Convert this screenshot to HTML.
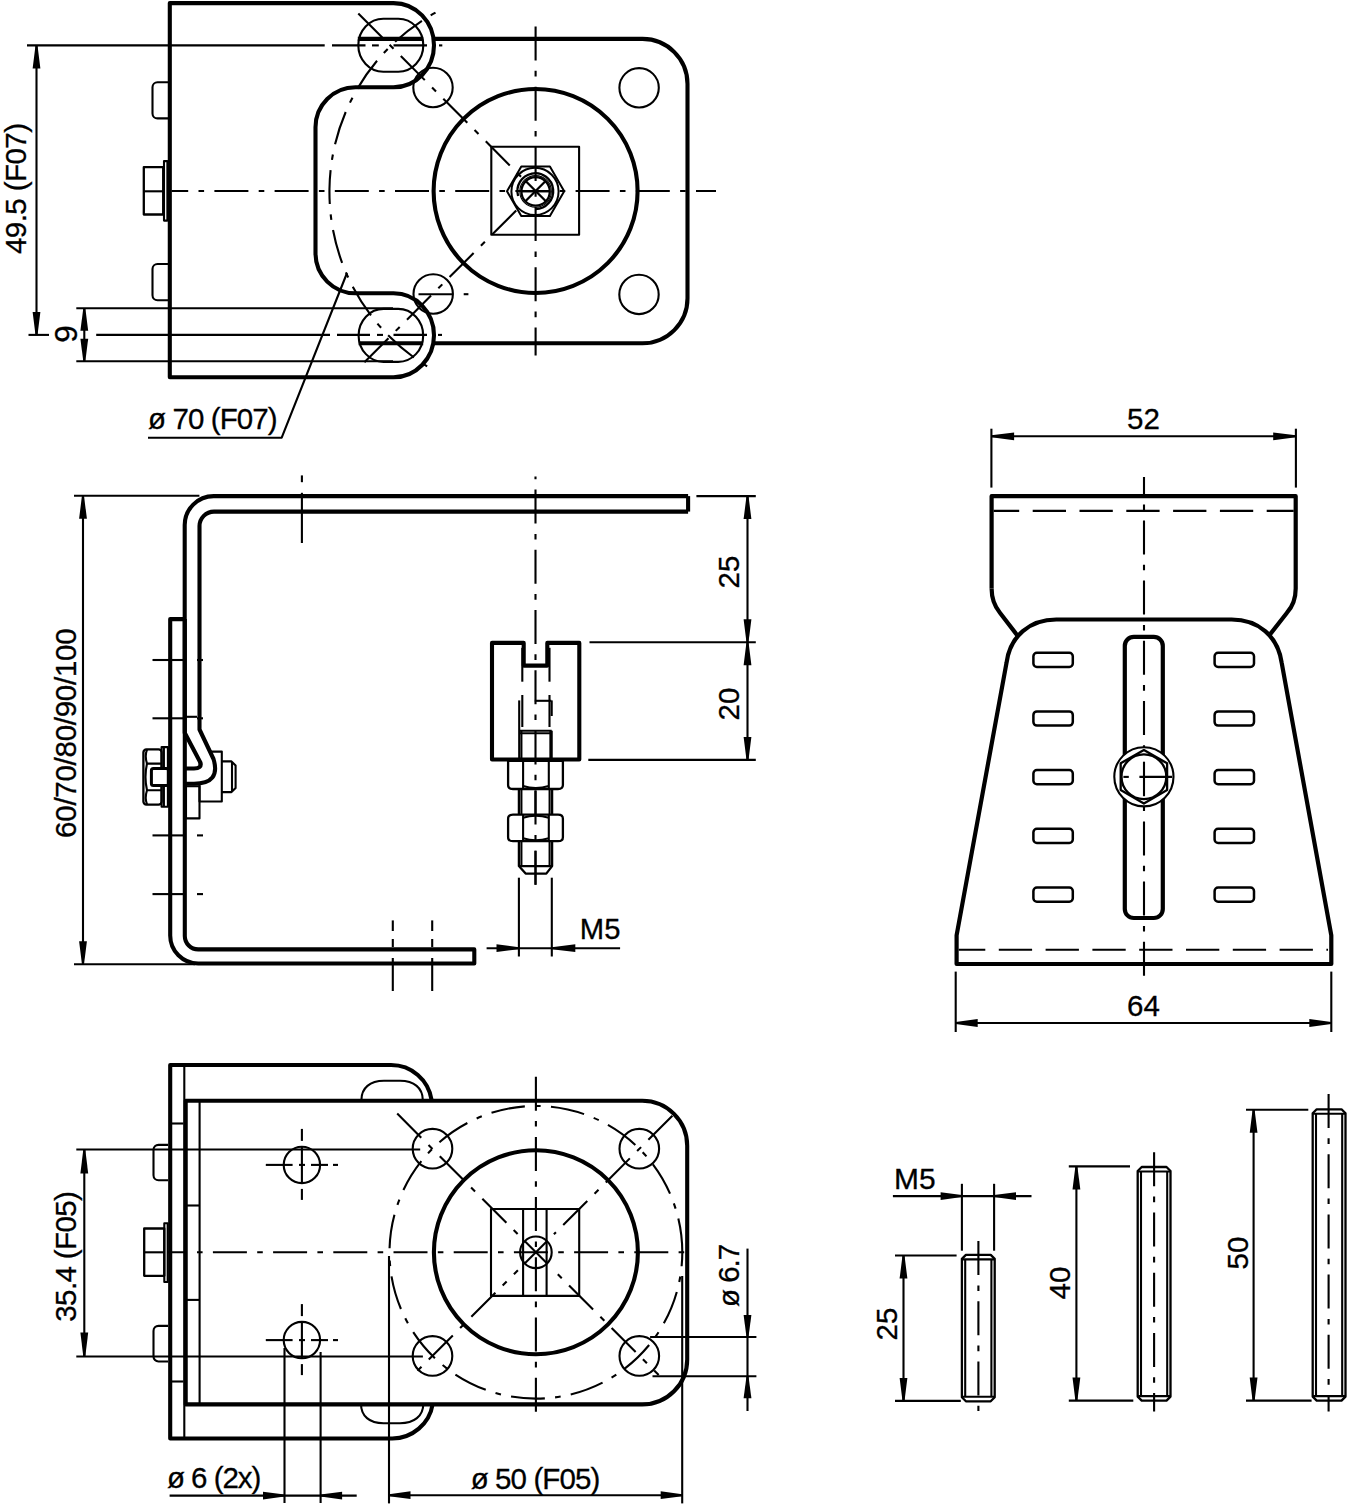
<!DOCTYPE html>
<html><head><meta charset="utf-8"><style>
html,body{margin:0;padding:0;background:#fff;width:1347px;height:1508px;overflow:hidden}
svg{display:block}
.k{fill:none;stroke:#000;stroke-width:4.1;stroke-linejoin:round}
.t{fill:none;stroke:#000;stroke-width:2.1;stroke-linejoin:round}
.m{fill:none;stroke:#000;stroke-width:2.3;stroke-linejoin:round}
.c{fill:none;stroke:#000;stroke-width:2.1;stroke-dasharray:34 10.3 5.6 10.3}
.ck{fill:none;stroke:#000;stroke-width:2.0;stroke-dasharray:34 10.3 5.6 10.3}
.h{fill:none;stroke:#000;stroke-width:2.1;stroke-dasharray:33 14}
.ar{fill:#000;stroke:none}
.wf{fill:#fff}
text{font-family:"Liberation Sans",sans-serif;fill:#000;stroke:#000;stroke-width:0.3}
</style></head><body>
<svg width="1347" height="1508" viewBox="0 0 1347 1508">
<path class="k" d="M169.8,3.1 H393.5 A40.5,42.1 0 0 1 393.5,87.3 H355.5 A40,40 0 0 0 315.5,127.3 V253.3 A40,40 0 0 0 355.5,293.3 H393.5 A40.5,42 0 0 1 393.5,377.3 H169.8 Z" />
<path class="k" d="M433.6,38.9 H642.5 A45,45 0 0 1 687.5,83.9 V298.3 A45,45 0 0 1 642.5,343.3 H433.6" />
<line class="k" x1="357.8" y1="38.9" x2="423.3" y2="38.9" />
<line class="k" x1="358.6" y1="343.3" x2="423.2" y2="343.3" />
<rect class="t" x="358.3" y="18.7" width="65" height="53" rx="25" ry="26.5" />
<rect class="t" x="358.6" y="308.9" width="64.6" height="53" rx="25" ry="26.5" />
<path class="t" d="M168,82.3 H157.5 A5,5 0 0 0 152.5,87.3 V113.4 A5,5 0 0 0 157.5,118.4 H168" />
<path class="t" d="M168,264 H157.5 A5,5 0 0 0 152.5,269 V295.3 A5,5 0 0 0 157.5,300.3 H168" />
<rect class="m" x="143.8" y="167.2" width="19.4" height="47.3" rx="0" ry="0" />
<line class="t" x1="143.8" y1="191.3" x2="163.2" y2="191.3" />
<rect class="t" x="164" y="161.1" width="3.4" height="59.5" rx="0" ry="0" />
<circle class="k" cx="535.6" cy="191" r="102" />
<rect class="t" x="491.3" y="146.8" width="87.8" height="87.9" rx="0" ry="0" />
<path class="t" d="M564.2,191.3 L549.9,216.07 L521.3,216.07 L507,191.3 L521.3,166.53 L549.9,166.53 Z" style="fill:#fff;stroke-width:2"/>
<circle class="t" cx="535" cy="191.4" r="23.6" style="stroke-width:2"/>
<path class="m" d="M518.1,196 A17.9,17.9 0 1 1 535.6,209" />
<circle class="t" cx="535.6" cy="191.4" r="15.8" style="stroke-width:1.1"/>
<circle class="m" cx="535.6" cy="191.4" r="14.2" />
<line class="m" x1="525.6" y1="181" x2="545.6" y2="201" />
<line class="m" x1="525.6" y1="201" x2="545.6" y2="181" />
<line class="t" x1="521.6" y1="191.4" x2="549.6" y2="191.4" />
<line class="c" x1="171.5" y1="191" x2="716" y2="191" stroke-dashoffset="17.3"/>
<line class="c" x1="535.6" y1="26.5" x2="535.6" y2="355.5" />
<line class="c" x1="358.3" y1="13.4" x2="522.5" y2="178.2" />
<line class="c" x1="516.2" y1="210.5" x2="362.4" y2="364.2" />
<path class="c" d="M437.5,11.6 A204.5,204.5 0 0 0 432.5,369.5" stroke-dashoffset="42"/>
<circle class="t" cx="433" cy="87.5" r="19.7" />
<circle class="t" cx="639.1" cy="87.8" r="19.7" />
<circle class="t" cx="433.2" cy="294" r="19.7" />
<circle class="t" cx="639" cy="294.4" r="19.7" />
<line class="t" x1="418.5" y1="294.2" x2="452.8" y2="294.2" />
<line class="t" x1="463.7" y1="294.2" x2="468.4" y2="294.2" />
<line class="t" x1="27" y1="45.4" x2="324.7" y2="45.4" />
<line class="t" x1="332" y1="45.4" x2="365.5" y2="45.4" />
<line class="t" x1="372" y1="45.4" x2="378.8" y2="45.4" />
<line class="t" x1="393.5" y1="45.4" x2="427" y2="45.4" />
<line class="t" x1="439" y1="45.4" x2="442.3" y2="45.4" />
<line class="t" x1="28.5" y1="334.9" x2="49" y2="334.9" />
<line class="t" x1="96.2" y1="334.9" x2="330" y2="334.9" />
<line class="t" x1="337" y1="334.9" x2="370" y2="334.9" />
<line class="t" x1="377" y1="334.9" x2="383" y2="334.9" />
<line class="t" x1="393.5" y1="334.9" x2="427" y2="334.9" />
<line class="t" x1="438" y1="334.9" x2="442" y2="334.9" />
<line class="t" x1="36.5" y1="45.4" x2="36.5" y2="334.9" />
<path class="ar" d="M37.5,45.4 L40.4,68.4 L32.6,68.4 L35.5,45.4 Z"/>
<path class="ar" d="M35.5,334.9 L32.6,311.9 L40.4,311.9 L37.5,334.9 Z"/>
<text x="26.4" y="254" font-size="29.5" text-anchor="start" transform="rotate(-90 26.4 254)" textLength="131" lengthAdjust="spacing">49.5 (F07)</text>
<line class="t" x1="76.3" y1="308.2" x2="393" y2="308.2" />
<line class="t" x1="76.3" y1="361.2" x2="393" y2="361.2" />
<line class="t" x1="84.3" y1="308.2" x2="84.3" y2="361.2" />
<path class="ar" d="M85.3,308.2 L88.2,330.7 L80.4,330.7 L83.3,308.2 Z"/>
<path class="ar" d="M83.3,361.2 L80.4,338.7 L88.2,338.7 L85.3,361.2 Z"/>
<text x="77.5" y="334.1" font-size="31.5" text-anchor="middle" transform="rotate(-90 77.5 334.1)">9</text>
<text x="148" y="428.6" font-size="29.5" text-anchor="start" textLength="129.7" lengthAdjust="spacing">ø 70 (F07)</text>
<path class="t" d="M148,437.7 H281.7 L347,273" />
<rect class="t" x="199.5" y="751.6" width="22.3" height="49.9" rx="0" ry="0" />
<rect class="t" x="186" y="786.3" width="13.5" height="32.1" rx="0" ry="0" />
<path class="t" d="M221.8,761.4 H231.5 L235.6,765.5 V788 L231.5,792.1 H221.8" />
<line class="t" x1="232" y1="762" x2="232" y2="791.5" />
<path class="wf" d="M184.7,730 L200.5,762.8 Q202,768.5 194,768.5 H184.5 V783.7 H194 Q221,783.7 213.5,759 L199.5,729.5 Z" style="stroke:none"/>
<path class="k" d="M688.1,496.1 H213.7 A29,29 0 0 0 184.7,525.1 V732.7 L200.5,762.8 Q202,768.5 194,768.5 H184.5" />
<path class="k" d="M688.1,511.6 H214 A14.5,14.5 0 0 0 199.5,526.1 V729.5 L213.5,759 Q221,783.7 194,783.7 H184.5" />
<line class="k" x1="688.1" y1="496.1" x2="688.1" y2="511.6" />
<path class="k" d="M184.6,619.1 H170.2 V935.5 A28,28 0 0 0 198.2,963.5 H474.3 V949.4 H198.2 A13.4,13.4 0 0 1 184.8,936 V619.1" />
<line class="t" x1="152.5" y1="660" x2="183" y2="660" />
<line class="t" x1="197" y1="660" x2="203" y2="660" />
<line class="t" x1="152.5" y1="718.3" x2="183" y2="718.3" />
<line class="t" x1="197" y1="718.3" x2="203" y2="718.3" />
<line class="t" x1="152.5" y1="835.4" x2="183" y2="835.4" />
<line class="t" x1="197" y1="835.4" x2="203" y2="835.4" />
<line class="t" x1="152.5" y1="894.1" x2="183" y2="894.1" />
<line class="t" x1="197" y1="894.1" x2="203" y2="894.1" />
<line class="t" x1="186" y1="716.8" x2="197" y2="716.8" />
<rect class="m" x="143.4" y="749.4" width="18.2" height="55.2" rx="3" ry="3" />
<path class="t" d="M161.6,763.6 H147 Q144.5,756 147,749.6" />
<path class="t" d="M161.6,790.3 H147 Q144.5,798 147,804.4" />
<path class="t" d="M147,763.6 Q144,777 147,790.3" />
<rect class="t" x="161.6" y="747.1" width="6.3" height="59.7" rx="0" ry="0" />
<line class="t" x1="163.9" y1="747.1" x2="163.9" y2="806.8" />
<rect class="k" x="151.4" y="768.5" width="16.9" height="16.9" rx="2" ry="2" style="fill:#fff;stroke-width:3"/>
<line class="t" x1="301.9" y1="475.4" x2="301.9" y2="482.2" />
<line class="t" x1="301.9" y1="492.8" x2="301.9" y2="543" />
<line class="c" x1="535.5" y1="476.5" x2="535.5" y2="886.8" stroke-dashoffset="47.1"/>
<line class="t" x1="392.8" y1="920.4" x2="392.8" y2="931" />
<line class="t" x1="392.8" y1="939" x2="392.8" y2="947" />
<line class="t" x1="392.8" y1="958" x2="392.8" y2="991" />
<line class="t" x1="432.2" y1="920.4" x2="432.2" y2="931" />
<line class="t" x1="432.2" y1="939" x2="432.2" y2="947" />
<line class="t" x1="432.2" y1="958" x2="432.2" y2="991" />
<path class="k" d="M492,642.9 H523.7 V665.6 H547.3 V642.9 H579.3 V759.5 H492 Z" />
<line class="t" x1="522.3" y1="647.8" x2="522.3" y2="681.7" />
<line class="t" x1="522.3" y1="695" x2="522.3" y2="727" />
<line class="t" x1="549.5" y1="647.8" x2="549.5" y2="681.7" />
<line class="t" x1="549.5" y1="695" x2="549.5" y2="727" />
<line class="t" x1="534.8" y1="700.8" x2="551.3" y2="700.8" />
<line class="t" x1="551.7" y1="700.4" x2="551.7" y2="716" />
<line class="t" x1="519.2" y1="700.4" x2="519.2" y2="759.5" />
<line class="t" x1="519.2" y1="730.7" x2="551.7" y2="730.7" />
<line class="t" x1="519.2" y1="733.3" x2="551.7" y2="733.3" />
<line class="t" x1="521.4" y1="730.7" x2="521.4" y2="759.5" />
<line class="t" x1="550.4" y1="730.7" x2="550.4" y2="759.5" />
<line class="t" x1="551.7" y1="730.7" x2="551.7" y2="759.5" />
<path class="m" d="M508.1,760.8 H562.9 V785 Q562.9,789 558,789 H513 Q508.1,789 508.1,785 Z" style="fill:#fff"/>
<line class="t" x1="523.1" y1="760.8" x2="523.1" y2="789" />
<line class="t" x1="548.8" y1="760.8" x2="548.8" y2="789" />
<path class="t" d="M523.1,786 Q535.5,790 548.8,786" />
<path class="m" d="M518.9,789 V866.1 L525.6,873.6 H546.3 L552.1,866.1 V789" />
<line class="t" x1="521.4" y1="789" x2="521.4" y2="866" />
<line class="t" x1="549.6" y1="789" x2="549.6" y2="866" />
<line class="t" x1="519" y1="866.1" x2="552" y2="866.1" />
<path class="m" d="M513,814.7 H558 Q562.9,814.7 562.9,818.7 V837.2 Q562.9,841.2 558,841.2 H513 Q508.1,841.2 508.1,837.2 V818.7 Q508.1,814.7 513,814.7 Z" style="fill:#fff"/>
<line class="t" x1="523.1" y1="814.7" x2="523.1" y2="841.2" />
<line class="t" x1="548.8" y1="814.7" x2="548.8" y2="841.2" />
<path class="t" d="M523.1,838.2 Q535.5,842.2 548.8,838.2" />
<path class="t" d="M523.1,817.7 Q535.5,813.7 548.8,817.7" />
<line class="c" x1="535.5" y1="760" x2="535.5" y2="886.8" stroke-dashoffset="29.6"/>
<line class="t" x1="518.9" y1="877.7" x2="518.9" y2="956.5" />
<line class="t" x1="551.8" y1="877.7" x2="551.8" y2="956.5" />
<line class="t" x1="486.6" y1="948.2" x2="620.1" y2="948.2" />
<path class="ar" d="M518.9,949.2 L496.5,952.1 L496.5,944.3 L518.9,947.2 Z"/>
<path class="ar" d="M551.8,947.2 L575.3,944.3 L575.3,952.1 L551.8,949.2 Z"/>
<text x="579.8" y="938.6" font-size="29.5" text-anchor="start" textLength="40.6" lengthAdjust="spacingAndGlyphs">M5</text>
<line class="t" x1="696.4" y1="496.1" x2="755.8" y2="496.1" />
<line class="t" x1="589.5" y1="642.2" x2="755.8" y2="642.2" />
<line class="t" x1="588.3" y1="759.9" x2="755.8" y2="759.9" />
<line class="t" x1="747.5" y1="496.1" x2="747.5" y2="759.9" />
<path class="ar" d="M748.5,496.1 L751.4,519.1 L743.6,519.1 L746.5,496.1 Z"/>
<path class="ar" d="M746.5,642.2 L743.6,619.2 L751.4,619.2 L748.5,642.2 Z"/>
<path class="ar" d="M748.5,642.2 L751.4,665.2 L743.6,665.2 L746.5,642.2 Z"/>
<path class="ar" d="M746.5,759.9 L743.6,736.9 L751.4,736.9 L748.5,759.9 Z"/>
<text x="739.2" y="572" font-size="29.5" text-anchor="middle" transform="rotate(-90 739.2 572)">25</text>
<text x="739.2" y="704" font-size="29.5" text-anchor="middle" transform="rotate(-90 739.2 704)">20</text>
<line class="t" x1="74" y1="495.8" x2="199.4" y2="495.8" />
<line class="t" x1="74" y1="964.3" x2="195" y2="964.3" />
<line class="t" x1="83" y1="495.8" x2="83" y2="964.3" />
<path class="ar" d="M84,495.8 L86.9,518.8 L79.1,518.8 L82,495.8 Z"/>
<path class="ar" d="M82,964.3 L79.1,941.3 L86.9,941.3 L84,964.3 Z"/>
<text x="75.8" y="837.9" font-size="29.5" text-anchor="start" transform="rotate(-90 75.8 837.9)" textLength="209.5" lengthAdjust="spacing">60/70/80/90/100</text>
<path class="k" d="M991.6,588.5 V496.2 H1295.7 V588.5 Q1295.7,603 1287,612.7 L1269.8,634.6" style="stroke-width:4.2"/>
<path class="k" d="M991.6,588.5 Q991.6,602.5 999.9,612.8 L1018.3,636.7" style="stroke-width:4.2"/>
<line class="h" x1="993.6" y1="510.9" x2="1293.7" y2="510.9" style="stroke-dasharray:33.3 13.5" stroke-dashoffset="7.7"/>
<path class="k" d="M956.6,964 V935.3 L1006.5,662.9 C1010,636 1030,619.5 1056.3,619.5 H1231.6 C1258,619.5 1278,636 1281.7,662.9 L1331.3,935.3 V964 Z" style="stroke-width:4.2"/>
<line class="h" x1="958.7" y1="949.8" x2="1328" y2="949.8" style="stroke-dasharray:33.3 13.5" stroke-dashoffset="6.7"/>
<rect class="k" x="1124.8" y="636.9" width="38" height="281.1" rx="9" ry="9" style="stroke-width:4.2"/>
<rect class="m" x="1033.4" y="652.8" width="39.4" height="14.2" rx="3.5" ry="3.5" style="stroke-width:2.5"/>
<rect class="m" x="1214.6" y="652.8" width="39.4" height="14.2" rx="3.5" ry="3.5" style="stroke-width:2.5"/>
<rect class="m" x="1033.4" y="711.4" width="39.4" height="14.2" rx="3.5" ry="3.5" style="stroke-width:2.5"/>
<rect class="m" x="1214.6" y="711.4" width="39.4" height="14.2" rx="3.5" ry="3.5" style="stroke-width:2.5"/>
<rect class="m" x="1033.4" y="770" width="39.4" height="14.2" rx="3.5" ry="3.5" style="stroke-width:2.5"/>
<rect class="m" x="1214.6" y="770" width="39.4" height="14.2" rx="3.5" ry="3.5" style="stroke-width:2.5"/>
<rect class="m" x="1033.4" y="828.8" width="39.4" height="14.2" rx="3.5" ry="3.5" style="stroke-width:2.5"/>
<rect class="m" x="1214.6" y="828.8" width="39.4" height="14.2" rx="3.5" ry="3.5" style="stroke-width:2.5"/>
<rect class="m" x="1033.4" y="887.5" width="39.4" height="14.2" rx="3.5" ry="3.5" style="stroke-width:2.5"/>
<rect class="m" x="1214.6" y="887.5" width="39.4" height="14.2" rx="3.5" ry="3.5" style="stroke-width:2.5"/>
<line class="c" x1="1144" y1="477" x2="1144" y2="977.6" stroke-dashoffset="16.8"/>
<circle class="t" cx="1143.9" cy="776.8" r="29.6" style="fill:#fff"/>
<path class="m" d="M1167.11,790.1 L1143.9,803.5 L1120.69,790.1 L1120.69,763.3 L1143.9,749.9 L1167.11,763.3 Z" />
<circle class="m" cx="1143.9" cy="776.7" r="22.4" />
<line class="t" x1="1144" y1="761.7" x2="1144" y2="796.2" />
<line class="t" x1="1123.4" y1="776.9" x2="1128.8" y2="776.9" />
<line class="t" x1="1139.4" y1="776.9" x2="1172.1" y2="776.9" />
<line class="t" x1="991.4" y1="428.7" x2="991.4" y2="487.6" />
<line class="t" x1="1295.9" y1="428.7" x2="1295.9" y2="487.6" />
<line class="t" x1="991.4" y1="436.3" x2="1295.9" y2="436.3" />
<path class="ar" d="M991.4,435.3 L1014.1,432.4 L1014.1,440.2 L991.4,437.3 Z"/>
<path class="ar" d="M1295.9,437.3 L1273.2,440.2 L1273.2,432.4 L1295.9,435.3 Z"/>
<text x="1143.5" y="429.3" font-size="29.5" text-anchor="middle">52</text>
<line class="t" x1="955.7" y1="971.6" x2="955.7" y2="1032" />
<line class="t" x1="1331.3" y1="971.6" x2="1331.3" y2="1032" />
<line class="t" x1="955.7" y1="1023" x2="1331.3" y2="1023" />
<path class="ar" d="M955.7,1022 L977.7,1019.1 L977.7,1026.9 L955.7,1024 Z"/>
<path class="ar" d="M1331.3,1024 L1309.3,1026.9 L1309.3,1019.1 L1331.3,1022 Z"/>
<text x="1143.5" y="1016" font-size="29.5" text-anchor="middle">64</text>
<path class="k" d="M431.6,1100 A41,41 0 0 0 391,1065 H170.2 V1438.5 H392.3 A41,41 0 0 0 432.7,1404" />
<path class="k" d="M185.7,1100.8 H642 A45,45 0 0 1 687.2,1145.8 V1359.4 A45,45 0 0 1 642.2,1404.4 H185.7 Z" />
<line class="t" x1="184.3" y1="1065" x2="184.3" y2="1438.5" />
<line class="t" x1="199.6" y1="1100.8" x2="199.6" y2="1404.4" />
<line class="t" x1="172" y1="1123.5" x2="183.5" y2="1123.5" />
<line class="t" x1="172" y1="1381.5" x2="183.5" y2="1381.5" />
<line class="t" x1="187" y1="1205.5" x2="199" y2="1205.5" />
<line class="t" x1="187" y1="1299.9" x2="199" y2="1299.9" />
<path class="t" d="M168,1144.9 H158.5 A5,5 0 0 0 153.5,1149.9 V1175.2 A5,5 0 0 0 158.5,1180.2 H168" />
<path class="t" d="M168,1325.9 H158.5 A5,5 0 0 0 153.5,1330.9 V1356.5 A5,5 0 0 0 158.5,1361.5 H168" />
<rect class="m" x="144.2" y="1228.5" width="20.1" height="47.3" rx="0" ry="0" />
<line class="t" x1="144.2" y1="1252.3" x2="164.3" y2="1252.3" />
<rect class="t" x="164.3" y="1223.2" width="3.4" height="58.8" rx="0" ry="0" />
<path class="t" d="M361.4,1100 C361.4,1088 370,1080.7 384,1080.7 H400 C414,1080.7 422.8,1088 422.8,1100" />
<path class="t" d="M361,1404 C361,1416 369.5,1423.3 383.5,1423.3 H400 C414,1423.3 423.3,1416 423.3,1404" />
<circle class="t" cx="301.9" cy="1164.9" r="18.2" />
<line class="t" x1="301.9" y1="1128.9" x2="301.9" y2="1140.9" />
<line class="t" x1="301.9" y1="1146.9" x2="301.9" y2="1182.9" />
<line class="t" x1="301.9" y1="1188.9" x2="301.9" y2="1199.9" />
<line class="t" x1="265.8" y1="1164.9" x2="292.6" y2="1164.9" />
<line class="t" x1="299" y1="1164.9" x2="305" y2="1164.9" />
<line class="t" x1="311" y1="1164.9" x2="328" y2="1164.9" />
<line class="t" x1="333" y1="1164.9" x2="338" y2="1164.9" />
<circle class="t" cx="301.9" cy="1340.1" r="18.2" />
<line class="t" x1="301.9" y1="1304.1" x2="301.9" y2="1316.1" />
<line class="t" x1="301.9" y1="1322.1" x2="301.9" y2="1358.1" />
<line class="t" x1="301.9" y1="1364.1" x2="301.9" y2="1375.1" />
<line class="t" x1="265.8" y1="1340.1" x2="292.6" y2="1340.1" />
<line class="t" x1="299" y1="1340.1" x2="305" y2="1340.1" />
<line class="t" x1="311" y1="1340.1" x2="328" y2="1340.1" />
<line class="t" x1="333" y1="1340.1" x2="338" y2="1340.1" />
<circle class="k" cx="535.9" cy="1252.3" r="102" />
<path class="c" d="M389.5,1252.3 A146.4,146.4 0 0 1 682.3,1252.3" stroke-dashoffset="56.1"/>
<path class="c" d="M682.3,1252.3 A146.4,146.4 0 0 1 389.5,1252.3" stroke-dashoffset="20"/>
<circle class="t" cx="432.5" cy="1148.7" r="19.8" />
<line class="c" x1="397.2" y1="1113.6" x2="517.9" y2="1234.3" stroke-dashoffset="0"/>
<circle class="t" cx="639.3" cy="1148.7" r="19.8" />
<line class="c" x1="672.4" y1="1115.8" x2="553.9" y2="1234.3" stroke-dashoffset="0"/>
<circle class="t" cx="432.5" cy="1355.9" r="19.8" />
<line class="c" x1="412.3" y1="1375.9" x2="517.9" y2="1270.3" stroke-dashoffset="36.9"/>
<circle class="t" cx="639.3" cy="1355.9" r="19.8" />
<line class="c" x1="658.7" y1="1375.1" x2="553.9" y2="1270.3" stroke-dashoffset="27.6"/>
<rect class="t" x="491" y="1209" width="88.2" height="86.9" rx="0" ry="0" />
<line class="t" x1="523.1" y1="1209" x2="523.1" y2="1295.9" />
<line class="t" x1="546.6" y1="1209" x2="546.6" y2="1295.9" />
<circle class="t" cx="535.9" cy="1252.3" r="15.8" />
<line class="t" x1="524.9" y1="1241.3" x2="546.9" y2="1263.3" />
<line class="t" x1="524.9" y1="1263.3" x2="546.9" y2="1241.3" />
<line class="c" x1="535.9" y1="1076.7" x2="535.9" y2="1413.5" />
<line class="c" x1="168" y1="1252.3" x2="685" y2="1252.3" stroke-dashoffset="15.3"/>
<line class="t" x1="76.3" y1="1149.5" x2="420.2" y2="1149.5" />
<line class="t" x1="76.3" y1="1356.5" x2="422.9" y2="1356.5" />
<line class="t" x1="84.3" y1="1149.5" x2="84.3" y2="1356.5" />
<path class="ar" d="M85.3,1149.5 L88.2,1173.5 L80.4,1173.5 L83.3,1149.5 Z"/>
<path class="ar" d="M83.3,1356.5 L80.4,1332.5 L88.2,1332.5 L85.3,1356.5 Z"/>
<text x="75.9" y="1321.7" font-size="29.5" text-anchor="start" transform="rotate(-90 75.9 1321.7)" textLength="130.6" lengthAdjust="spacing">35.4 (F05)</text>
<line class="t" x1="284.5" y1="1348" x2="284.5" y2="1503" />
<line class="t" x1="320.6" y1="1352" x2="320.6" y2="1503" />
<line class="t" x1="169.6" y1="1495.6" x2="356.7" y2="1495.6" />
<path class="ar" d="M284.5,1496.6 L263,1499.5 L263,1491.7 L284.5,1494.6 Z"/>
<path class="ar" d="M320.6,1494.6 L342.1,1491.7 L342.1,1499.5 L320.6,1496.6 Z"/>
<text x="167" y="1488.3" font-size="29.5" text-anchor="start" textLength="94.3" lengthAdjust="spacing">ø 6 (2x)</text>
<line class="t" x1="389" y1="1256" x2="389" y2="1503.4" />
<line class="t" x1="682.2" y1="1276" x2="682.2" y2="1503.4" />
<line class="t" x1="389" y1="1495.2" x2="682.2" y2="1495.2" />
<path class="ar" d="M389,1494.2 L410.5,1491.3 L410.5,1499.1 L389,1496.2 Z"/>
<path class="ar" d="M682.2,1496.2 L660.7,1499.1 L660.7,1491.3 L682.2,1494.2 Z"/>
<text x="470.7" y="1489.3" font-size="29.5" text-anchor="start" textLength="129.6" lengthAdjust="spacing">ø 50 (F05)</text>
<line class="t" x1="650.1" y1="1337" x2="756.4" y2="1337" />
<line class="t" x1="652.5" y1="1376.3" x2="756.4" y2="1376.3" />
<line class="t" x1="747.5" y1="1248.6" x2="747.5" y2="1411" />
<path class="ar" d="M746.5,1337 L743.6,1315 L751.4,1315 L748.5,1337 Z"/>
<path class="ar" d="M748.5,1376.3 L751.4,1398.3 L743.6,1398.3 L746.5,1376.3 Z"/>
<text x="739.4" y="1307.1" font-size="29.5" text-anchor="start" transform="rotate(-90 739.4 1307.1)" textLength="63.3" lengthAdjust="spacing">ø 6.7</text>
<path class="m" d="M961.9,1397.3 V1258.9 L965.9,1254.9 H990.7 L994.7,1258.9 V1397.3 L990.7,1401.3 H965.9 Z" />
<line class="t" x1="965.2" y1="1259.4" x2="965.2" y2="1396.8" />
<line class="t" x1="991.4" y1="1259.4" x2="991.4" y2="1396.8" />
<line class="t" x1="961.9" y1="1259.4" x2="994.7" y2="1259.4" />
<line class="t" x1="961.9" y1="1396.8" x2="994.7" y2="1396.8" />
<line class="c" x1="978.4" y1="1241.1" x2="978.4" y2="1410.9" />
<path class="m" d="M1137.7,1396.6 V1171 L1141.7,1167 H1166.5 L1170.5,1171 V1396.6 L1166.5,1400.6 H1141.7 Z" />
<line class="t" x1="1141" y1="1171.5" x2="1141" y2="1396.1" />
<line class="t" x1="1167.2" y1="1171.5" x2="1167.2" y2="1396.1" />
<line class="t" x1="1137.7" y1="1171.5" x2="1170.5" y2="1171.5" />
<line class="t" x1="1137.7" y1="1396.1" x2="1170.5" y2="1396.1" />
<line class="c" x1="1154.1" y1="1152.3" x2="1154.1" y2="1411.6" />
<path class="m" d="M1312.7,1396.6 V1113.3 L1316.7,1109.3 H1341.5 L1345.5,1113.3 V1396.6 L1341.5,1400.6 H1316.7 Z" />
<line class="t" x1="1316" y1="1113.8" x2="1316" y2="1396.1" />
<line class="t" x1="1342.2" y1="1113.8" x2="1342.2" y2="1396.1" />
<line class="t" x1="1312.7" y1="1113.8" x2="1345.5" y2="1113.8" />
<line class="t" x1="1312.7" y1="1396.1" x2="1345.5" y2="1396.1" />
<line class="c" x1="1328.6" y1="1094" x2="1328.6" y2="1411.6" />
<line class="t" x1="961.9" y1="1183.8" x2="961.9" y2="1250.7" />
<line class="t" x1="994.1" y1="1183.8" x2="994.1" y2="1250.7" />
<line class="t" x1="892.9" y1="1196.1" x2="1031.5" y2="1196.1" />
<path class="ar" d="M961.9,1197.1 L940.6,1200 L940.6,1192.2 L961.9,1195.1 Z"/>
<path class="ar" d="M994.1,1195.1 L1016,1192.2 L1016,1200 L994.1,1197.1 Z"/>
<text x="894" y="1188.6" font-size="29.5" text-anchor="start" textLength="41.6" lengthAdjust="spacingAndGlyphs">M5</text>
<line class="t" x1="895" y1="1255.5" x2="956.6" y2="1255.5" />
<line class="t" x1="895" y1="1400.9" x2="960.8" y2="1400.9" />
<line class="t" x1="903.5" y1="1255.5" x2="903.5" y2="1400.9" />
<path class="ar" d="M904.5,1255.5 L907.4,1278.5 L899.6,1278.5 L902.5,1255.5 Z"/>
<path class="ar" d="M902.5,1400.9 L899.6,1377.9 L907.4,1377.9 L904.5,1400.9 Z"/>
<text x="897.1" y="1324" font-size="29.5" text-anchor="middle" transform="rotate(-90 897.1 1324)">25</text>
<line class="t" x1="1068.8" y1="1166.4" x2="1130" y2="1166.4" />
<line class="t" x1="1068.8" y1="1400.6" x2="1133.3" y2="1400.6" />
<line class="t" x1="1076.4" y1="1166.4" x2="1076.4" y2="1400.6" />
<path class="ar" d="M1077.4,1166.4 L1080.3,1189.4 L1072.5,1189.4 L1075.4,1166.4 Z"/>
<path class="ar" d="M1075.4,1400.6 L1072.5,1377.6 L1080.3,1377.6 L1077.4,1400.6 Z"/>
<text x="1070" y="1283" font-size="29.5" text-anchor="middle" transform="rotate(-90 1070 1283)">40</text>
<line class="t" x1="1246" y1="1109.7" x2="1308.3" y2="1109.7" />
<line class="t" x1="1246" y1="1400.6" x2="1311.6" y2="1400.6" />
<line class="t" x1="1253.6" y1="1109.7" x2="1253.6" y2="1400.6" />
<path class="ar" d="M1254.6,1109.7 L1257.5,1132.7 L1249.7,1132.7 L1252.6,1109.7 Z"/>
<path class="ar" d="M1252.6,1400.6 L1249.7,1377.6 L1257.5,1377.6 L1254.6,1400.6 Z"/>
<text x="1248.1" y="1253" font-size="29.5" text-anchor="middle" transform="rotate(-90 1248.1 1253)">50</text>
</svg></body></html>
